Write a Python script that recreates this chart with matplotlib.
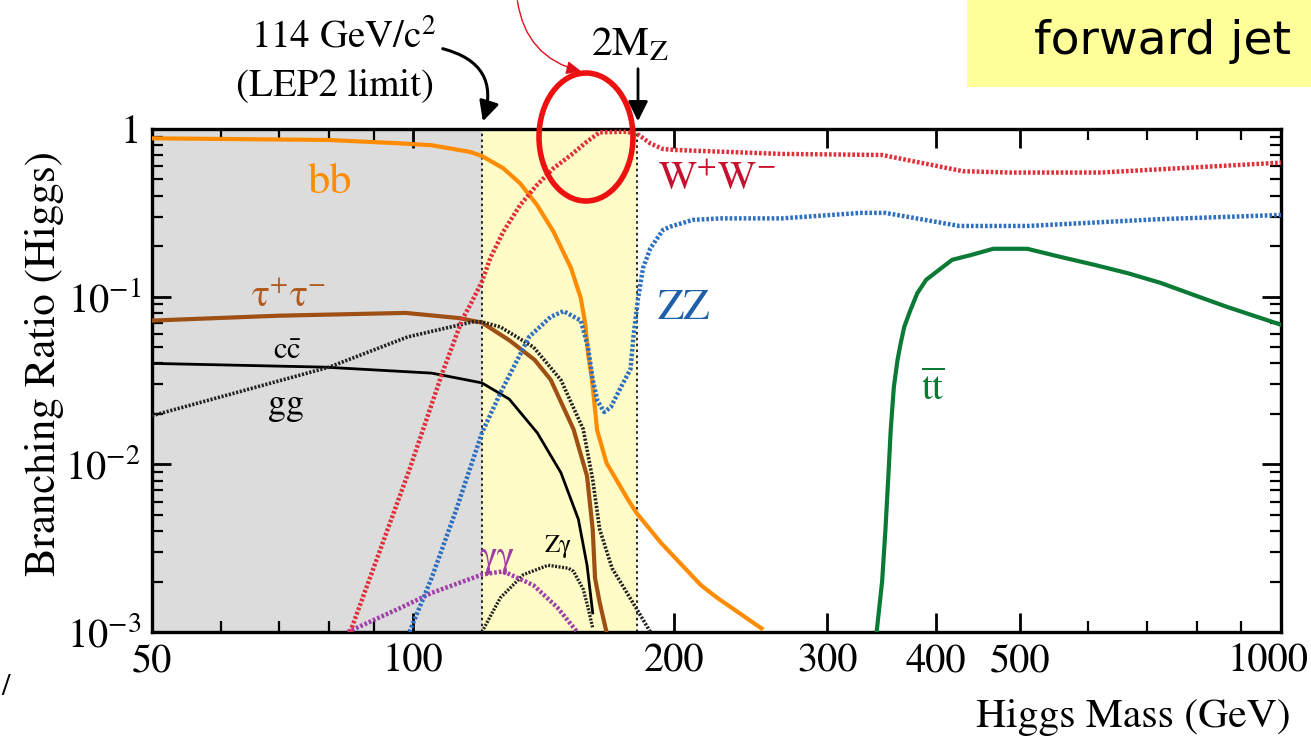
import matplotlib
matplotlib.use("Agg")
import matplotlib.pyplot as plt
from matplotlib.ticker import FixedLocator, FixedFormatter, NullFormatter
from matplotlib.patches import Ellipse, Rectangle, FancyArrowPatch

plt.rcParams['font.family'] = ['STIXGeneral', 'DejaVu Serif']
plt.rcParams['mathtext.fontset'] = 'stix'

# ---------------- data ----------------
lep_limit = 120.0      # where the LEP2 dotted line sits in the picture
two_mz = 181.0

bb_m  = [50, 80, 97, 105, 116.3, 120, 127, 132.8, 138.9, 145.1, 152, 156, 157.9, 159, 160.7, 162.9, 167,
         177, 181, 193, 214.6, 224, 252]
bb_br = [0.88, 0.86, 0.82, 0.80, 0.73, 0.69, 0.583, 0.474, 0.352, 0.244, 0.148, 0.098, 0.068, 0.046, 0.032,
         0.016, 0.0102, 0.0061, 0.0051, 0.0034, 0.0019, 0.0016, 0.00105]

ww_m  = [84.6, 99, 108, 114, 116.3, 120, 122.7, 127, 132.8, 138.9, 145.1, 152, 158.5, 164, 176.5, 182,
         187.6, 194, 200, 266, 347, 430, 487, 620, 1000]
ww_br = [0.001, 0.0093, 0.035, 0.074, 0.089, 0.123, 0.17, 0.244, 0.352, 0.464, 0.583, 0.70, 0.84, 0.955,
         0.964, 0.92, 0.82, 0.76, 0.75, 0.71, 0.70, 0.56, 0.55, 0.55, 0.63]

zz_m  = [99, 105, 112, 120, 126, 136, 144, 149, 156, 159, 161, 163, 166, 169, 173, 178, 179.4, 181.6, 184,
         187.6, 194, 198, 210, 226, 266, 328, 350, 426, 510, 726, 1000]
zz_br = [0.001, 0.0021, 0.0053, 0.0154, 0.0266, 0.0576, 0.0757, 0.082, 0.072, 0.05, 0.032, 0.024, 0.0205,
         0.022, 0.028, 0.037, 0.058, 0.098, 0.148, 0.194, 0.25, 0.262, 0.287, 0.293, 0.293, 0.316, 0.316,
         0.264, 0.264, 0.29, 0.307]

tt_m  = [342, 347, 350, 353, 355, 358, 361.5, 364.6, 368, 374, 381, 390, 406, 418, 439, 466, 510, 556,
         609, 666, 726, 795, 866, 1000]
tt_br = [0.001, 0.002, 0.004, 0.009, 0.016, 0.029, 0.042, 0.053, 0.066, 0.083, 0.105, 0.126, 0.148, 0.166,
         0.177, 0.193, 0.193, 0.173, 0.155, 0.138, 0.121, 0.102, 0.087, 0.068]

tau_m  = [50, 70, 98, 113, 120, 129, 138, 144, 153, 158.6, 161, 162, 164, 167]
tau_br = [0.072, 0.077, 0.080, 0.0745, 0.070, 0.055, 0.042, 0.032, 0.0162, 0.0085, 0.0041, 0.0021,
          0.0015, 0.001]

cc_m  = [50, 79, 105, 120, 129, 139, 148, 155, 158.6, 161]
cc_br = [0.040, 0.038, 0.035, 0.0306, 0.0245, 0.0154, 0.0089, 0.0047, 0.0025, 0.0013]

gg_m  = [50, 80, 98.5, 117, 120, 126, 137.6, 148, 157, 161, 164, 169.5, 180.5, 187.6]
gg_br = [0.0195, 0.038, 0.0575, 0.0707, 0.0707, 0.066, 0.050, 0.0318, 0.0162, 0.0081, 0.0041, 0.0024,
         0.0014, 0.001]

zg_m  = [120, 126, 134, 143, 151, 153, 157, 159, 161]
zg_br = [0.001, 0.0016, 0.0022, 0.0025, 0.0024, 0.0023, 0.0018, 0.0014, 0.00106]

aa_m  = [84, 96.6, 105, 120, 127, 137.6, 146.6, 154.5]
aa_br = [0.001, 0.00139, 0.00171, 0.0022, 0.0023, 0.0019, 0.0014, 0.001]

x_major = [50, 100, 200, 300, 400, 500, 1000]
x_labels = ['50', '100', '200', '300', '400', '500', '1000']
x_minor = [60, 70, 80, 90, 600, 700, 800, 900]
y_major = [1e-3, 1e-2, 1e-1, 1]
y_labels = [r'$10^{-3}$', r'$10^{-2}$', r'$10^{-1}$', '1']

# ---------------- figure ----------------
W, H = 1311, 742
fig = plt.figure(figsize=(W / 100, H / 100), dpi=100)

def fx(px):
    return px / W

def fy(py):
    return 1 - py / H

ax = fig.add_axes([fx(152), fy(632), (1281 - 152) / W, (632 - 129) / H])
ax.set_xscale('log')
ax.set_yscale('log')
ax.set_xlim(50, 1000)
ax.set_ylim(1e-3, 1)

ax.axvspan(50, lep_limit, color='#dcdcdc', zorder=0, lw=0)
ax.axvspan(lep_limit, two_mz, color='#fffcc8', zorder=0, lw=0)
for xv in (lep_limit, two_mz):
    ax.axvline(xv, color='black', lw=1.2, ls=(0, (1.5, 2)), zorder=1)

dot = (0, (0.6, 0.45))
ax.plot(bb_m, bb_br, color='#ff8c00', lw=3.0, zorder=3)
ax.plot(tau_m, tau_br, color='#9e4f14', lw=3.0, zorder=3)
ax.plot(cc_m, cc_br, color='black', lw=2.0, zorder=3)
ax.plot(gg_m, gg_br, color='#222222', lw=2.6, ls=dot, zorder=3)
ax.plot(zg_m, zg_br, color='#222222', lw=2.4, ls=dot, zorder=3)
ax.plot(aa_m, aa_br, color='#a040a8', lw=3.2, ls=dot, zorder=3)
ax.plot(ww_m, ww_br, color='#e0303a', lw=3.2, ls=dot, zorder=3)
ax.plot(zz_m, zz_br, color='#2f6fc0', lw=3.2, ls=dot, zorder=3)
ax.plot(tt_m, tt_br, color='#0a7a35', lw=3.0, zorder=3)

ax.xaxis.set_major_locator(FixedLocator(x_major))
ax.xaxis.set_major_formatter(FixedFormatter(x_labels[:-1] + ['']))
ax.xaxis.set_minor_locator(FixedLocator(x_minor))
ax.xaxis.set_minor_formatter(NullFormatter())
ax.yaxis.set_major_locator(FixedLocator(y_major))
ax.yaxis.set_major_formatter(FixedFormatter(y_labels))
ax.yaxis.set_minor_locator(FixedLocator([m * d for d in (1e-3, 1e-2, 1e-1) for m in range(2, 10)]))
ax.yaxis.set_minor_formatter(NullFormatter())
ax.tick_params(which='both', direction='in', top=True, right=True, labelsize=29, pad=8)
ax.tick_params(which='major', length=14, width=2)
ax.tick_params(which='minor', length=8, width=1.6)
for s in ax.spines.values():
    s.set_linewidth(2.4)
# last x tick label nudged left so that it stays inside the picture (as in the reference)
ax.annotate(x_labels[-1], xy=(x_major[-1], 0), xycoords=('data', 'axes fraction'),
            xytext=(28, -11), textcoords='offset pixels', ha='right', va='top', fontsize=29)

# curve labels
ax.text(80.2, 0.476, 'bb', color='#ff8c00', fontsize=32, ha='center', va='center')
ax.text(71.9, 0.100, r'τ$^{+}$τ$^{-}$', color='#b05a1e', fontsize=27, ha='center', va='center')
ax.text(71.6, 0.047, r'$\mathrm{c\bar{c}}$', color='black', fontsize=22, ha='center', va='center')
ax.text(71.3, 0.0226, 'gg', color='black', fontsize=26, ha='center', va='center')
ax.text(224, 0.496, r'$\mathrm{W^{+}W^{-}}$', color='#c8102e', fontsize=29, ha='center', va='center')
ax.text(205, 0.0845, 'ZZ', color='#1f5faa', fontsize=31, ha='center', va='center')
ax.text(397, 0.028, r'$\overline{\mathrm{tt}}$', color='#0a7a35', fontsize=28, ha='center', va='center')
ax.text(125, 0.00278, 'γγ', color='#a03ca8', fontsize=27, ha='center', va='center')
ax.text(147, 0.00327, 'Zγ', color='black', fontsize=18, ha='center', va='center')

# axis titles
fig.text(fx(45), fy(363), 'Branching Ratio (Higgs)', rotation=90, fontsize=31, ha='center', va='center')
fig.text(fx(1291), fy(717), 'Higgs Mass (GeV)', fontsize=30, ha='right', va='center')

# top annotations
fig.text(fx(343), fy(37), r'114 GeV/c$^{2}$', fontsize=28, ha='center', va='center')
fig.text(fx(335), fy(86), '(LEP2 limit)', fontsize=28, ha='center', va='center')
fig.text(fx(630), fy(45), r'2M$_{\mathrm{Z}}$', fontsize=30, ha='center', va='center')

arr1 = FancyArrowPatch((fx(440), fy(48)), (fx(482), fy(124)), transform=fig.transFigure,
                       connectionstyle='arc3,rad=-0.55', arrowstyle='-|>,head_length=12,head_width=6',
                       color='black', lw=2.2, mutation_scale=1)
fig.add_artist(arr1)
arr2 = FancyArrowPatch((fx(638), fy(66)), (fx(638), fy(124)), transform=fig.transFigure,
                       arrowstyle='-|>,head_length=12,head_width=6', color='black', lw=2.0,
                       mutation_scale=1)
fig.add_artist(arr2)
arr3 = FancyArrowPatch((fx(517), fy(-2)), (fx(584), fy(72)), transform=fig.transFigure,
                       connectionstyle='arc3,rad=0.35', arrowstyle='-|>,head_length=9,head_width=4',
                       color='#e0101a', lw=1.0, mutation_scale=1)
fig.add_artist(arr3)

ell = Ellipse((fx(586), fy(137)), 94 / W, 128 / H, transform=fig.transFigure, fill=False,
              edgecolor='#ee1111', lw=4.0, zorder=10)
fig.add_artist(ell)

box = Rectangle((fx(967), fy(87)), (W - 967) / W, 87 / H, transform=fig.transFigure,
                facecolor='#ffff99', edgecolor='none', zorder=5)
fig.add_artist(box)
fig.text(fx(1163), fy(42), 'forward jet', family='DejaVu Sans', fontsize=34, ha='center',
         va='center', zorder=6)

fig.text(fx(6), fy(688), '/', fontsize=22, ha='center', va='center')

fig.savefig('out.png', dpi=100)
